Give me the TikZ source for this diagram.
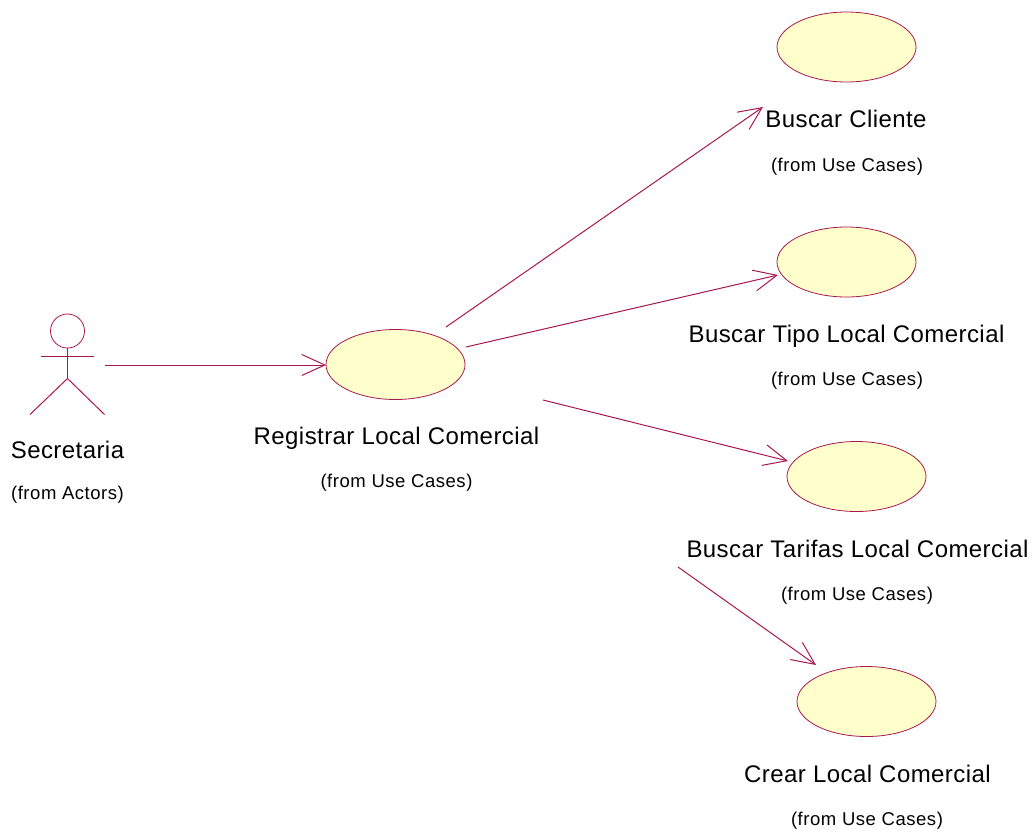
\documentclass[tikz,border=0pt]{standalone}
\usepackage{fontspec}
\setmainfont{Liberation Sans}
\newfontfamily\namefont[LetterSpace=1.8]{Liberation Sans}
\newfontfamily\fromfont[LetterSpace=2.9]{Liberation Sans}
\usetikzlibrary{shapes.geometric,arrows.meta}
\definecolor{rose}{RGB}{168,24,78}
\definecolor{usecase}{RGB}{255,255,204}
\tikzset{
  uc/.style={ellipse,draw=rose,fill=usecase,line width=.8pt,minimum width=139pt,minimum height=70pt,inner sep=0pt},
  nm/.style={font=\namefont\fontsize{24}{26}\selectfont,text=black,inner sep=0pt,anchor=base},
  frm/.style={font=\fromfont\fontsize{18.5}{22}\selectfont,text=black,inner sep=0pt,anchor=base},
  link/.style={draw=rose,line width=1pt,-{Straight Barb[length=23pt,width=21pt,line width=1pt]}},
  limb/.style={draw=rose,line width=1pt},
}
\begin{document}
\begin{tikzpicture}[x=1pt,y=-1pt]
\useasboundingbox (0,0) rectangle (1036,831);
\node[uc] (reg) at (395.5,364.5) {};
\node[uc] (cli) at (846.5,47) {};
\node[uc] (tip) at (846.5,262) {};
\node[uc] (tar) at (856.5,476.5) {};
\node[uc] (cre) at (866.5,701.5) {};
\node[nm] (regn) at (396.5,444) {Registrar Local Comercial};
\node[frm] (regf) at (396.5,487.5) {(from Use Cases)};
\node[nm] (clin) at (846,127.2) {Buscar Cliente};
\node[frm] (clif) at (847,171) {(from Use Cases)};
\node[nm] (tipn) at (846.5,342) {Buscar Tipo Local Comercial};
\node[frm] (tipf) at (847,385.5) {(from Use Cases)};
\node[nm] (tarn) at (857.5,557.2) {Buscar Tarifas Local Comercial};
\node[frm] (tarf) at (857,600.5) {(from Use Cases)};
\node[nm] (cren) at (867.5,782.2) {Crear Local Comercial};
\node[frm] (cref) at (867,825.5) {(from Use Cases)};
\node[nm] (secn) at (67.5,458) {Secretaria};
\node[frm] (secf) at (67.5,499.5) {(from Actors)};
\node[circle,draw=rose,line width=.8pt,minimum size=34pt,inner sep=0pt] (head) at (67.5,331) {};
\coordinate (hip) at (67.5,378.5);
\coordinate (arml) at (40.5,356);
\coordinate (armr) at (94,356);
\coordinate (legl) at (30,414.5);
\coordinate (legr) at (104.5,414.5);
\draw[limb] (head.south) -- (hip);
\draw[limb] (arml) -- (armr);
\draw[limb] (legl) -- (hip) -- (legr);
\coordinate (a0) at (105,365);
\coordinate (a1) at (326,365);
\coordinate (b0) at (446,327);
\coordinate (b1) at (763,107);
\coordinate (c0) at (466,347);
\coordinate (c1) at (778,275);
\coordinate (d0) at (543,400);
\coordinate (d1) at (788,461);
\coordinate (e0) at (678,567);
\coordinate (e1) at (816,665);
\draw[link] (a0) -- (a1);
\draw[link] (b0) -- (b1);
\draw[link] (c0) -- (c1);
\draw[link] (d0) -- (d1);
\draw[link] (e0) -- (e1);
\end{tikzpicture}
\end{document}
